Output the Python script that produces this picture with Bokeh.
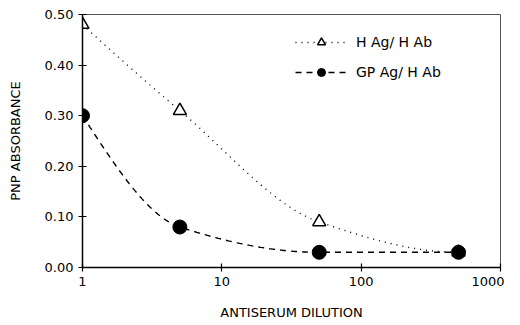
import numpy as np
from bokeh.plotting import figure
from bokeh.models import (FixedTicker, NumeralTickFormatter, Legend, LegendItem,
                          Range1d)
from bokeh.embed import file_html
from bokeh.resources import INLINE

# ---- data ----
dilution = [1, 5, 50, 500]
h_ag_h_ab = [0.48, 0.31, 0.09, 0.03]
gp_ag_h_ab = [0.30, 0.08, 0.03, 0.03]
x_ticks = [1, 10, 100, 1000]
y_ticks = [0.0, 0.1, 0.2, 0.3, 0.4, 0.5]
series_names = ["H Ag/ H Ab", "GP Ag/ H Ab"]
x_title = "ANTISERUM DILUTION"
y_title = "PNP ABSORBANCE"

FONT = "DejaVu Sans"


def pchip(xk, yk, xs):
    xk = np.asarray(xk, float)
    yk = np.asarray(yk, float)
    h = np.diff(xk)
    d = np.diff(yk) / h
    n = len(xk)
    m = np.zeros(n)
    for k in range(1, n - 1):
        if d[k - 1] * d[k] > 0:
            w1 = 2 * h[k] + h[k - 1]
            w2 = h[k] + 2 * h[k - 1]
            m[k] = (w1 + w2) / (w1 / d[k - 1] + w2 / d[k])

    def end(h0, h1, d0, d1):
        mm = ((2 * h0 + h1) * d0 - h0 * d1) / (h0 + h1)
        if np.sign(mm) != np.sign(d0):
            mm = 0.0
        elif np.sign(d0) != np.sign(d1) and abs(mm) > abs(3 * d0):
            mm = 3 * d0
        return mm

    m[0] = end(h[0], h[1], d[0], d[1])
    m[-1] = end(h[-1], h[-2], d[-1], d[-2])
    idx = np.clip(np.searchsorted(xk, xs) - 1, 0, n - 2)
    t = (xs - xk[idx]) / h[idx]
    h00 = 2 * t**3 - 3 * t**2 + 1
    h10 = t**3 - 2 * t**2 + t
    h01 = -2 * t**3 + 3 * t**2
    h11 = t**3 - t**2
    return (h00 * yk[idx] + h10 * h[idx] * m[idx]
            + h01 * yk[idx + 1] + h11 * h[idx] * m[idx + 1])


lx = np.log10(dilution)
xs_log = np.linspace(lx[0], lx[-1], 300)
xs = 10 ** xs_log
curve_h = pchip(lx, h_ag_h_ab, xs_log)
curve_gp = pchip(lx, gp_ag_h_ab, xs_log)

p = figure(width=504, height=309, x_axis_type="log",
           x_range=Range1d(1, 1000), y_range=Range1d(0, 0.5),
           output_backend="svg", toolbar_location=None,
           min_border_left=82, min_border_right=4,
           min_border_top=14, min_border_bottom=42)
p.frame_width = 418
p.frame_height = 253

p.background_fill_color = "white"
p.border_fill_color = "white"
p.grid.visible = False
p.outline_line_color = "#555555"
p.outline_line_width = 1

l1 = p.line(xs, curve_h, line_color="black", line_width=1.4, line_dash="1 5")
l2 = p.line(xs, curve_gp, line_color="black", line_width=1.4, line_dash="6 5")
s1 = p.scatter(dilution, h_ag_h_ab, marker="triangle", size=13,
               fill_color="white", line_color="black", line_width=1.5)
s2 = p.scatter(dilution, gp_ag_h_ab, marker="circle", size=14,
               fill_color="black", line_color="black")

for ax in (p.xaxis[0], p.yaxis[0]):
    ax.axis_line_color = "black"
    ax.axis_line_width = 1.5
    ax.major_tick_line_color = "black"
    ax.major_tick_line_width = 1.2
    ax.major_tick_in = 4
    ax.major_tick_out = 4
    ax.minor_tick_line_color = None
    ax.major_label_text_font = FONT
    ax.major_label_text_font_size = "13px"
    ax.major_label_text_color = "black"
    ax.axis_label_text_font = FONT
    ax.axis_label_text_font_size = "13px"
    ax.axis_label_text_font_style = "normal"
    ax.axis_label_text_color = "black"
    ax.major_label_standoff = 5

p.xaxis.ticker = FixedTicker(ticks=x_ticks)
p.xaxis.formatter = NumeralTickFormatter(format="0")
p.xaxis.axis_label = x_title
p.xaxis.axis_label_standoff = 16

p.yaxis.ticker = FixedTicker(ticks=y_ticks)
p.yaxis.formatter = NumeralTickFormatter(format="0.00")
p.yaxis.axis_label = y_title
p.yaxis.axis_label_standoff = 19

legend = Legend(items=[LegendItem(label=series_names[0], renderers=[l1, s1]),
                       LegendItem(label=series_names[1], renderers=[l2, s2])],
                location=(213, 185), orientation="vertical")
legend.background_fill_alpha = 0
legend.border_line_color = None
legend.padding = 0
legend.margin = 0
legend.spacing = 10
legend.glyph_width = 52
legend.glyph_height = 20
legend.label_height = 20
legend.label_standoff = 9
legend.label_text_font = FONT
legend.label_text_font_size = "14px"
legend.label_text_color = "black"
p.add_layout(legend, "center")

open("out.html", "w").write(file_html(p, INLINE))
